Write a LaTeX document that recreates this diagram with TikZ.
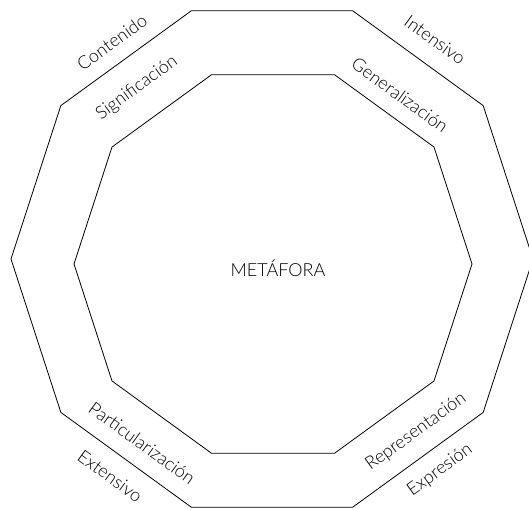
\documentclass[tikz,border=0pt]{standalone}
\usepackage{fontspec}
\setmainfont{Lato}[UprightFont=* Light]
\usepackage{tikz}
\usetikzlibrary{calc}

\tikzset{
  ring/.style={line width=0.8pt, line join=miter},
  lbl/.style={font=\fontsize{18}{21}\selectfont, inner sep=0pt}
}

\begin{document}
\begin{tikzpicture}[x=1pt,y=-1pt]
  \useasboundingbox (0,0) rectangle (529,510);
  % centres of the two decagons
  \coordinate (oc) at (272,259);
  \coordinate (ic) at (273,264);
  \foreach \i in {0,...,9} {
    \coordinate (o\i) at ($(oc)+(\i*36:261)$);
    \coordinate (n\i) at ($(ic)+(\i*36:199)$);
  }
  \draw[ring] (o0) -- (o1) -- (o2) -- (o3) -- (o4) -- (o5) -- (o6) -- (o7) -- (o8) -- (o9) -- cycle;
  \draw[ring] (n0) -- (n1) -- (n2) -- (n3) -- (n4) -- (n5) -- (n6) -- (n7) -- (n8) -- (n9) -- cycle;
  % labels
  \node[lbl] (meta) at (278,268) {METÁFORA};
  \node[lbl,rotate=36]  (cont) at (112,42)  {Contenido};
  \node[lbl,rotate=36]  (sign) at (137,88)  {Significación};
  \node[lbl,rotate=-36] (inte) at (435,40)  {Intensivo};
  \node[lbl,rotate=-36] (gene) at (400,95)  {Generalización};
  \node[lbl,rotate=-36] (part) at (142,443) {Particularización};
  \node[lbl,rotate=-36] (exte) at (110,476) {Extensivo};
  \node[lbl,rotate=36]  (repr) at (416,432) {Representación};
  \node[lbl,rotate=36]  (expr) at (440,470) {Expresión};
\end{tikzpicture}
\end{document}
